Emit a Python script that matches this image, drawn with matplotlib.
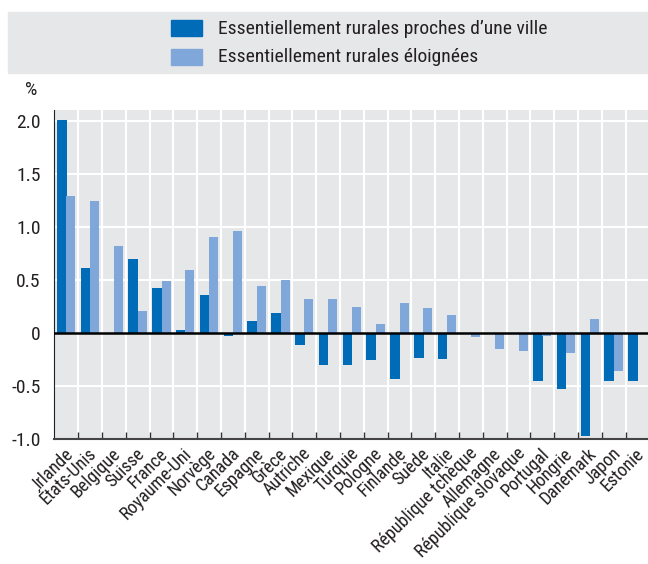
import matplotlib
matplotlib.use("Agg")
from matplotlib import pyplot as plt
from matplotlib.patches import Rectangle
import numpy as np

countries = ["Irlande", "États-Unis", "Belgique", "Suisse", "France", "Royaume-Uni",
             "Norvège", "Canada", "Espagne", "Grèce", "Autriche", "Mexique", "Turquie",
             "Pologne", "Finlande", "Suède", "Italie", "République tchèque", "Allemagne",
             "République slovaque", "Portugal", "Hongrie", "Danemark", "Japon", "Estonie"]
proches = [2.01, 0.615, 0.0, 0.70, 0.425, 0.025, 0.36, -0.03, 0.115, 0.19, -0.11, -0.305,
           -0.305, -0.26, -0.435, -0.24, -0.25, 0.0, 0.0, 0.0, -0.455, -0.53, -0.975,
           -0.455, -0.455]
eloignees = [1.285, 1.245, 0.82, 0.21, 0.49, 0.595, 0.905, 0.96, 0.445, 0.50, 0.32, 0.315,
             0.24, 0.08, 0.285, 0.23, 0.17, -0.04, -0.155, -0.17, -0.03, -0.19, 0.135,
             -0.36, 0.0]
labels = ["Essentiellement rurales proches d\u2019une ville", "Essentiellement rurales éloignées"]

dark = "#006bb6"
light = "#7fa7da"
bg = "#e6e7e9"

plt.rcParams['font.family'] = ['Roboto Condensed', 'DejaVu Sans']
plt.rcParams['text.color'] = '#231f20'

fig = plt.figure(figsize=(6.48, 5.64), dpi=100)
ax = fig.add_axes([0.084, 0.2216, 0.916, 0.5834])
ax.set_facecolor(bg)

x = np.arange(len(countries))
ax.bar(x - 0.19, proches, width=0.4, color=dark, zorder=3)
ax.bar(x + 0.19, eloignees, width=0.38, color=light, zorder=3)

ax.set_xlim(-0.5, 24.44)
ax.set_ylim(-1.0, 2.1)
ax.set_yticks([-1.0, -0.5, 0, 0.5, 1.0, 1.5, 2.0])
ax.set_yticklabels(["-1.0", "-0.5", "0", "0.5", "1.0", "1.5", "2.0"], fontsize=14,
                   color="#231f20")

# white grid, vertical lines between countries
for b in np.arange(0.5, len(countries) - 0.5, 1):
    ax.axvline(b, color="white", lw=1.5, zorder=1)
for v in [-0.5, 0.5, 1.0, 1.5, 2.0]:
    ax.axhline(v, color="white", lw=1.5, zorder=1)
ax.axhline(0, color="black", lw=1.8, zorder=4)

ax.set_xticks(np.arange(0.5, len(countries) - 0.5, 1), minor=False)
ax.set_xticklabels([])
ax.tick_params(axis="x", direction="in", length=5, color="#333333", width=1)
ax.tick_params(axis="y", length=0, pad=10)
ax.set_xticks(x - 0.1, minor=True)
ax.set_xticklabels(countries, minor=True, rotation=45, ha="right",
                   rotation_mode="anchor", fontsize=13, color="#231f20")
ax.tick_params(axis="x", which="minor", length=0, pad=4)

for s in ["top", "right"]:
    ax.spines[s].set_visible(False)
ax.spines["left"].set_color("#222222")
ax.spines["bottom"].set_color("#444444")
ax.spines["bottom"].set_linewidth(1.5)

fig.text(31 / 648, 1 - 90 / 564, "%", fontsize=14, ha="center", va="center")

# legend box across the top
fig.patches.append(Rectangle((8 / 648, 1 - 73 / 564), 640 / 648, 61 / 564,
                             transform=fig.transFigure, color=bg, zorder=0))
fig.patches.append(Rectangle((171 / 648, 1 - 36 / 564), 31 / 648, 16 / 564,
                             transform=fig.transFigure, color=dark))
fig.patches.append(Rectangle((171 / 648, 1 - 65 / 564), 31 / 648, 16 / 564,
                             transform=fig.transFigure, color=light))
fig.text(218 / 648, 1 - 28.5 / 564, labels[0], fontsize=14, va="center")
fig.text(218 / 648, 1 - 57 / 564, labels[1], fontsize=14, va="center")

fig.savefig("out.png", dpi=100)
